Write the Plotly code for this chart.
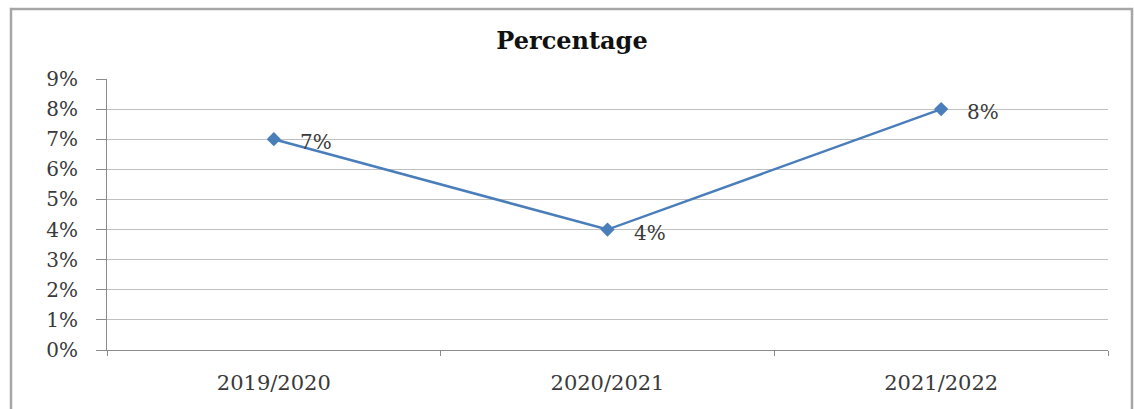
import plotly.graph_objects as go

# Series data
years = ["2019/2020", "2020/2021", "2021/2022"]
percentages = [7, 4, 8]
y_ticks = list(range(0, 10))
y_tick_labels = [f"{t}%" for t in y_ticks]

W, H = 1134, 409
L, R, T, B = 107, 26, 79, 59  # plot-area margins in px

SERIF = "DejaVu Serif"
LINE_BLUE = "#4a7ebb"
GRID = "#c0c0c0"
TXT = "#3a3a3a"


def px_x(p):
    return (p - L) / (W - L - R)


def px_y(p):
    return 1 - (p - T) / (H - T - B)


fig = go.Figure()
fig.add_trace(go.Scatter(
    x=years,
    y=percentages,
    mode="lines+markers",
    line=dict(color=LINE_BLUE, width=2.5),
    marker=dict(symbol="diamond", size=11, color=LINE_BLUE),
    showlegend=False,
    hoverinfo="skip",
))

# value labels to the right of each point
for yr, v in zip(years, percentages):
    fig.add_annotation(
        x=yr, y=v, text=f"{v}%", showarrow=False,
        xanchor="left", yanchor="middle", xshift=24, yshift=-3,
        font=dict(family=SERIF, size=20, color=TXT),
    )

# outer chart frame
fig.add_shape(
    type="rect", xref="paper", yref="paper",
    x0=px_x(11), x1=px_x(1132), y0=px_y(9), y1=px_y(430),
    line=dict(color="#a6a6a6", width=2.5), fillcolor="rgba(0,0,0,0)",
    layer="below",
)

fig.update_layout(
    width=W, height=H,
    margin=dict(l=L, r=R, t=T, b=B, pad=0),
    paper_bgcolor="white",
    plot_bgcolor="white",
    title=dict(
        text="<b>Percentage</b>",
        x=572 / W, xref="container", xanchor="center",
        y=1 - 41 / H, yref="container", yanchor="middle",
        font=dict(family=SERIF, size=24, color="#111"),
    ),
    xaxis=dict(
        type="category",
        range=[-0.5, 2.5],
        showgrid=False,
        showline=True, linecolor="#8c8c8c", linewidth=1,
        ticks="outside", tickson="boundaries", ticklen=5, tickcolor="#8c8c8c",
        ticklabelstandoff=14,
        tickfont=dict(family=SERIF, size=21, color=TXT),
        zeroline=False,
        fixedrange=True,
    ),
    yaxis=dict(
        range=[0, 9],
        tickmode="array",
        tickvals=y_ticks,
        ticktext=y_tick_labels,
        showgrid=True, gridcolor=GRID, gridwidth=1,
        showline=True, linecolor="#8c8c8c", linewidth=1,
        ticks="outside", ticklen=10, tickcolor="#8c8c8c",
        ticklabelstandoff=14,
        tickfont=dict(family=SERIF, size=20, color=TXT),
        zeroline=False,
        fixedrange=True,
    ),
)

fig.write_html("out.html")
